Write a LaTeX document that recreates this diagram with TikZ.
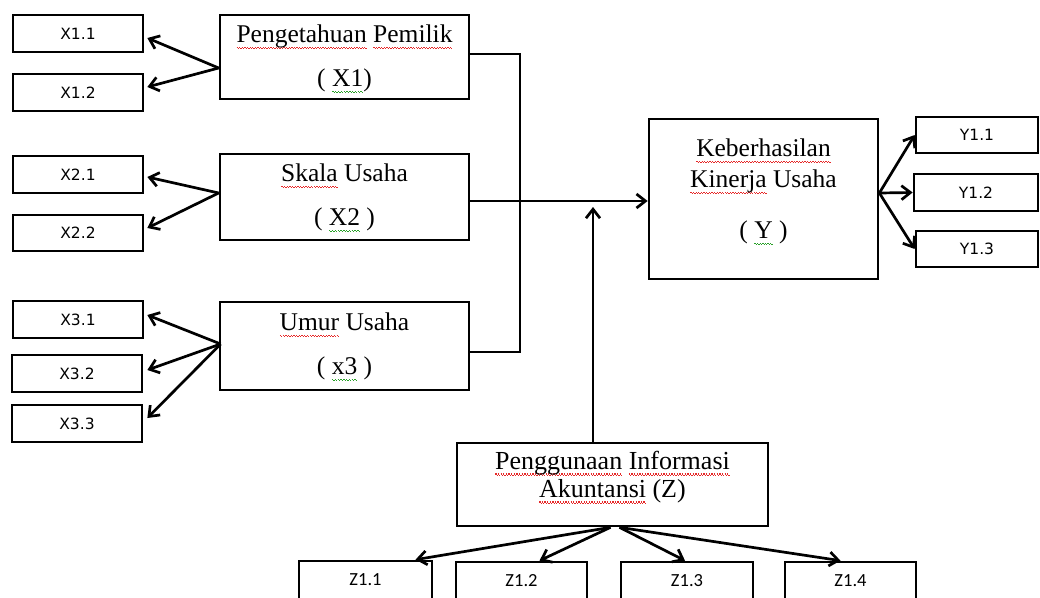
\documentclass[tikz,border=0pt]{standalone}
\usepackage{fontspec}
\setmainfont{Liberation Serif}
\newfontfamily\lblfont{DejaVu Sans}
\newfontfamily\zfont{Carlito}
\usetikzlibrary{arrows.meta,calc}
\definecolor{sqred}{RGB}{230,40,40}
\definecolor{sqgreen}{RGB}{40,160,40}
\newbox\sqbox
\newcommand\squig[2]{\setbox\sqbox\hbox{#2}\rlap{\hbox to\wd\sqbox{\color{#1}\xleaders\hbox{\vrule width1.3pt height-3.8pt depth4.9pt\vrule width1.3pt height-5pt depth6.1pt}\hfill}}\box\sqbox}
\newcommand\redsq[1]{\squig{sqred}{#1}}
\newcommand\grnsq[1]{\squig{sqgreen}{#1}}
\begin{document}
\begin{tikzpicture}[x=1pt,y=-1pt,line width=2.7pt,
  >={Straight Barb[length=9pt,width=14pt]},
  sbox/.style={draw,inner sep=0pt,minimum width=130pt,minimum height=37pt,font=\lblfont\fontsize{15.5}{18}\selectfont},
  zsbox/.style={draw,inner sep=0pt,minimum width=131pt,minimum height=38pt,font=\zfont\fontsize{18.5}{20}\selectfont},
  bigbox/.style={draw,inner sep=0pt},
  bigtext/.style={align=center,inner sep=0pt,font=\fontsize{25.5}{44}\selectfont},
  conn/.style={line width=2.7pt},
  arr/.style={line width=2.7pt,->}]
\useasboundingbox (0,0) rectangle (1040,597);
% small X boxes
\node[sbox] (x11) at (78,33.5) {X1.1};
\node[sbox] (x12) at (78,92.5) {X1.2};
\node[sbox] (x21) at (78,174.5) {X2.1};
\node[sbox,minimum height=36pt] (x22) at (78,233) {X2.2};
\node[sbox] (x31) at (78,319.5) {X3.1};
\node[sbox] (x32) at (77,373.5) {X3.2};
\node[sbox] (x33) at (77,423.5) {X3.3};
% main X boxes
\node[bigbox,minimum width=249pt,minimum height=84pt] (px1) at (344.5,57) {};
\node[bigtext] (px1t) at ([yshift=-2pt]px1.center) {\redsq{Pengetahuan} \redsq{Pemilik}\\( \grnsq{X1})};
\node[bigbox,minimum width=249pt,minimum height=86pt] (px2) at (344.5,197) {};
\node[bigtext] (px2t) at ([yshift=-1pt]px2.center) {\redsq{Skala} Usaha\\( \grnsq{X2} )};
\node[bigbox,minimum width=249pt,minimum height=88pt] (px3) at (344.5,346) {};
\node[bigtext] (px3t) at ([yshift=-1pt]px3.center) {\redsq{Umur} Usaha\\( \grnsq{x3} )};
% Y box
\node[bigbox,minimum width=229pt,minimum height=160pt] (ybox) at (763.5,199) {};
\node[bigtext,font=\fontsize{25.5}{31}\selectfont] (yt) at ([yshift=7pt]ybox.center) {\redsq{Keberhasilan}\\\redsq{Kinerja} Usaha\\[20pt]( \grnsq{Y} )};
\node[sbox,minimum width=122pt,minimum height=36pt] (y11) at (977,135) {Y1.1};
\node[sbox,minimum width=124pt] (y12) at (976,192.5) {Y1.2};
\node[sbox,minimum width=122pt,minimum height=36pt] (y13) at (977,249) {Y1.3};
% Z box
\node[bigbox,minimum width=311pt,minimum height=83pt] (zbox) at (612.5,484.5) {};
\node[bigtext,font=\fontsize{26}{28}\selectfont] (zt) at ([yshift=7pt]zbox.center) {\redsq{Penggunaan} \redsq{Informasi}\\\redsq{Akuntansi} (Z)};
\node[zsbox,minimum width=133pt] (z11) at (365.5,580) {Z1.1};
\node[zsbox] (z12) at (521.5,581) {Z1.2};
\node[zsbox,minimum width=132pt] (z13) at (687,581) {Z1.3};
\node[zsbox] (z14) at (850.5,581) {Z1.4};
% junction coordinates
\coordinate (jt) at (520,54);
\coordinate (jb) at (520,352);
\coordinate (zup) at (593,207);
% X1 -> indicators
\draw[arr] ([yshift=-11pt]px1.west) -- ([shift={(3pt,-4.5pt)}]x11.east);
\draw[arr] ([yshift=-11pt]px1.west) -- ([shift={(3pt,5.5pt)}]x12.east);
% X2 -> indicators
\draw[arr] ([yshift=4pt]px2.west) -- ([shift={(3pt,-2.5pt)}]x21.east);
\draw[arr] ([yshift=4pt]px2.west) -- ([shift={(3pt,5pt)}]x22.east);
% X3 -> indicators
\draw[arr] ([shift={(2pt,2pt)}]px3.west) -- ([shift={(3pt,4.5pt)}]x31.east);
\draw[arr] ([shift={(2pt,2pt)}]px3.west) -- ([shift={(4pt,3.5pt)}]x32.east);
\draw[arr] ([shift={(2pt,2pt)}]px3.west) -- ([shift={(4pt,5.5pt)}]x33.east);
% X boxes to Y
\draw[conn,line join=miter] ([yshift=3pt]px1.east) -- (jt) -- (jb) -- ([yshift=-6pt]px3.east);
\draw[arr] ([yshift=-4pt]px2.east) -- ([yshift=-2pt]ybox.west);
% Z to main line
\draw[arr] ([xshift=-19.5pt]zbox.north) -- (zup);
% Y -> indicators
\draw[arr] ([yshift=6pt]ybox.east) -- (y11.west);
\draw[arr] ([yshift=6pt]ybox.east) -- (y12.west);
\draw[arr] ([yshift=6pt]ybox.east) -- (y13.west);
% Z -> indicators
\draw[arr] ([xshift=-2pt]zbox.south) -- ([xshift=50pt]z11.north);
\draw[arr] ([xshift=-2pt]zbox.south) -- ([xshift=18pt]z12.north);
\draw[arr] ([xshift=7pt]zbox.south) -- ([xshift=-2pt]z13.north);
\draw[arr] ([xshift=7pt]zbox.south) -- ([xshift=-10pt]z14.north);
\end{tikzpicture}
\end{document}
